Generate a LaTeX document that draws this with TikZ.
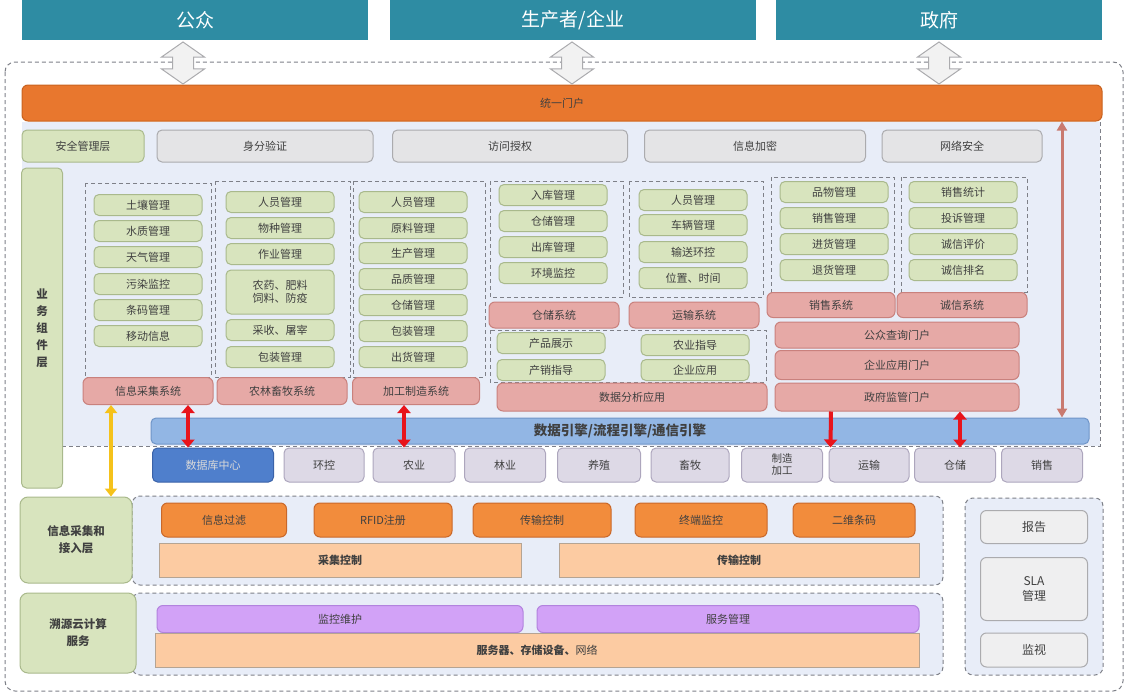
\documentclass[tikz,border=0pt]{standalone}
\usepackage{fontspec}
\setmainfont{Noto Sans CJK SC}
\usetikzlibrary{arrows.meta,shapes.arrows}
\definecolor{teal}{HTML}{2E8CA3}
\definecolor{portal}{HTML}{E8772E}
\definecolor{portald}{HTML}{C8621F}
\definecolor{region}{HTML}{E8EDF8}
\definecolor{grn}{HTML}{D8E4BE}
\definecolor{grnd}{HTML}{A9B98C}
\definecolor{gry}{HTML}{E4E4E6}
\definecolor{gryd}{HTML}{ABABAE}
\definecolor{pnk}{HTML}{E6A9A6}
\definecolor{pnkd}{HTML}{C9817D}
\definecolor{engine}{HTML}{92B6E4}
\definecolor{engined}{HTML}{6F95C8}
\definecolor{dbc}{HTML}{4F7FCC}
\definecolor{dbcd}{HTML}{3A62A8}
\definecolor{lav}{HTML}{DDD9E6}
\definecolor{lavd}{HTML}{ADA6BD}
\definecolor{org}{HTML}{F28C3C}
\definecolor{orgd}{HTML}{C9682A}
\definecolor{pch}{HTML}{FCCBA2}
\definecolor{pchd}{HTML}{B5A493}
\definecolor{prp}{HTML}{D2A2F7}
\definecolor{prpd}{HTML}{B283DE}
\definecolor{txt}{HTML}{404040}
\definecolor{frm}{HTML}{7E8088}
\definecolor{redarr}{HTML}{E8141B}
\definecolor{ylw}{HTML}{F5C21B}
\definecolor{brn}{HTML}{C97A70}
\begin{document}
\begin{tikzpicture}[x=1pt,y=-1pt,
  every node/.style={font=\fontsize{11}{13}\selectfont, text=txt, inner sep=0pt, align=center},
  topbox/.style={fill=teal, text=white, font=\fontsize{19}{22}\selectfont, minimum height=40pt},
  grnbox/.style={draw=grnd, fill=grn, line width=1pt, rounded corners=5pt},
  item/.style={grnbox, minimum width=108pt, minimum height=21pt},
  secbox/.style={draw=gryd, fill=gry, line width=1pt, rounded corners=5pt, minimum height=32pt},
  sysbox/.style={draw=pnkd, fill=pnk, line width=1pt, rounded corners=6pt, minimum height=27pt},
  cell/.style={draw=lavd, fill=lav, line width=1pt, rounded corners=5pt, minimum height=34pt},
  orgbox/.style={draw=orgd, fill=org, line width=1pt, rounded corners=6pt, minimum height=34pt},
  pchbox/.style={draw=pchd, fill=pch, line width=1pt, minimum height=34pt},
  prpbox/.style={draw=prpd, fill=prp, line width=1pt, rounded corners=6pt, minimum height=27pt},
  slabox/.style={draw=gryd, fill=gry!60, line width=1pt, rounded corners=6pt, minimum width=107pt, font=\fontsize{12}{15}\selectfont},
  frame/.style={draw=frm, line width=1pt, dash pattern=on 4pt off 3pt},
  hollow/.style={double arrow, rotate=90, draw=gryd, fill=gry!50, line width=1pt, inner xsep=0pt, inner ysep=10pt,
    minimum height=42pt, double arrow head extend=11pt, double arrow tip angle=110},
  redtip/.style={draw=redarr, line width=4pt, {Triangle[width=13pt,length=8pt]}-{Triangle[width=13pt,length=8pt]}}]
\useasboundingbox (0,0) rectangle (1128,696);
\draw[frame, rounded corners=10pt] (5,62) rectangle (1123,691);
\fill[region] (22,122) rectangle (1100,446);
\draw[frame] (62,446) -- (1100,446) -- (1100,122);
\node[topbox, minimum width=346pt] (pub) at (195,20) {公众};
\node[topbox, minimum width=366pt] (prod) at (573,20) {生产者/企业};
\node[topbox, minimum width=326pt] (gov) at (939,20) {政府};
\node[draw=portald, fill=portal, line width=1pt, rounded corners=6pt, minimum width=1080pt, minimum height=36pt] (portal) at (562,103) {统一门户};
\node[hollow] (arpub) at (183,63) {};
\node[hollow] (arprod) at (572,63) {};
\node[hollow] (argov) at (939,63) {};
\node[grnbox, minimum width=122pt, minimum height=32pt] (sec) at (83,146) {安全管理层};
\node[secbox, minimum width=216pt] (auth) at (265,146) {身分验证};
\node[secbox, minimum width=235pt] (acc) at (510,146) {访问授权};
\node[secbox, minimum width=221pt] (enc) at (755,146) {信息加密};
\node[secbox, minimum width=160pt] (net) at (962,146) {网络安全};
\node[grnbox, minimum width=41pt, minimum height=320pt, font=\fontsize{11.5}{17}\selectfont\bfseries] (biz) at (42,328) {业\\务\\组\\件\\层};
\draw[frame] (85,183) rectangle (211,377);
\draw[frame] (215,181) rectangle (350,377);
\draw[frame] (353,181) rectangle (485,377);
\draw[frame] (490,181) rectangle (623,297);
\draw[frame] (629,181) rectangle (763,297);
\draw[frame] (490,330) rectangle (766,382);
\draw[frame] (771,177) rectangle (894,292);
\draw[frame] (901,177) rectangle (1027,292);
\node[item] (soil) at (148,205) {土壤管理};
\node[item] (water) at (148,231) {水质管理};
\node[item] (weather) at (148,257) {天气管理};
\node[item] (pollute) at (148,284) {污染监控};
\node[item] (barcode) at (148,310) {条码管理};
\node[item] (mobile) at (148,336) {移动信息};
\node[item] (staffa) at (280,202) {人员管理};
\node[item] (species) at (280,228) {物种管理};
\node[item] (work) at (280,254) {作业管理};
\node[item, minimum height=44pt] (pest) at (280,292) {农药、肥料\\饲料、防疫};
\node[item] (harvest) at (280,330) {采收、屠宰};
\node[item] (packa) at (280,357) {包装管理};
\node[item] (staffb) at (413,202) {人员管理};
\node[item] (raw) at (413,228) {原料管理};
\node[item] (produce) at (413,253) {生产管理};
\node[item] (quality) at (413,279) {品质管理};
\node[item] (storea) at (413,305) {仓储管理};
\node[item] (packb) at (413,331) {包装管理};
\node[item] (ship) at (413,357) {出货管理};
\node[item] (inbound) at (553,195) {入库管理};
\node[item] (storeb) at (553,221) {仓储管理};
\node[item] (outbound) at (553,247) {出库管理};
\node[item] (envmon) at (553,273) {环境监控};
\node[item] (staffc) at (693,200) {人员管理};
\node[item] (vehicle) at (693,225) {车辆管理};
\node[item] (convey) at (693,252) {输送环控};
\node[item] (position) at (693,278) {位置、时间};
\node[item] (show) at (551,343) {产品展示};
\node[item] (guide) at (551,370) {产销指导};
\node[item] (agguide) at (695,345) {农业指导};
\node[item] (entapp) at (695,370) {企业应用};
\node[item] (goods) at (834,192) {品物管理};
\node[item] (sales) at (834,218) {销售管理};
\node[item] (purchase) at (834,244) {进货管理};
\node[item] (refund) at (834,270) {退货管理};
\node[item] (stat) at (963,192) {销售统计};
\node[item] (complain) at (963,218) {投诉管理};
\node[item] (rate) at (963,244) {诚信评价};
\node[item] (rank) at (963,270) {诚信排名};
\node[sysbox, minimum width=130pt] (sysinfo) at (148,391) {信息采集系统};
\node[sysbox, minimum width=130pt] (sysfarm) at (282,391) {农林畜牧系统};
\node[sysbox, minimum width=127pt] (sysproc) at (416,391) {加工制造系统};
\node[sysbox, minimum width=130pt, minimum height=26pt] (sysstore) at (554,315) {仓储系统};
\node[sysbox, minimum width=130pt, minimum height=26pt] (systrans) at (694,315) {运输系统};
\node[sysbox, minimum width=270pt, minimum height=28pt] (sysdata) at (632,397) {数据分析应用};
\node[sysbox, minimum width=128pt, minimum height=25pt] (syssale) at (831,305) {销售系统};
\node[sysbox, minimum width=130pt, minimum height=25pt] (syscredit) at (962,305) {诚信系统};
\node[sysbox, minimum width=244pt, minimum height=26pt] (pubp) at (897,335) {公众查询门户};
\node[sysbox, minimum width=244pt, minimum height=29pt] (entp) at (897,365) {企业应用门户};
\node[sysbox, minimum width=244pt, minimum height=28pt] (govp) at (897,397) {政府监管门户};
\node[draw=engined, fill=engine, line width=1pt, rounded corners=5pt, minimum width=938pt, minimum height=26pt, font=\fontsize{13.5}{15}\selectfont\bfseries, text=black!75] (engine) at (620,431) {数据引擎/流程引擎/通信引擎};
\node[cell, draw=dbcd, fill=dbc, minimum width=121pt, text=white!85!black] (db) at (213,465) {数据库中心};
\node[cell, minimum width=80pt] (envc) at (324,465) {环控};
\node[cell, minimum width=82pt] (agri) at (414,465) {农业};
\node[cell, minimum width=81pt] (forest) at (505,465) {林业};
\node[cell, minimum width=83pt] (breed) at (599,465) {养殖};
\node[cell, minimum width=78pt] (stock) at (690,465) {畜牧};
\node[cell, minimum width=81pt, font=\fontsize{10.5}{12}\selectfont] (mfg) at (782,465) {制造\\加工};
\node[cell, minimum width=80pt] (trans) at (869,465) {运输};
\node[cell, minimum width=81pt] (store) at (955,465) {仓储};
\node[cell, minimum width=81pt] (sell) at (1042,465) {销售};
\draw[redtip] ([xshift=40pt]sysinfo.south) -- ([xshift=-25pt]db.north);
\draw[redtip] ([xshift=-12pt]sysproc.south) -- ([xshift=-10pt]agri.north);
\draw[draw=redarr, line width=4pt, -{Triangle[width=13pt,length=8pt]}] ([xshift=-66pt]govp.south) -- ([xshift=2pt]trans.north west);
\draw[redtip] ([xshift=63pt]govp.south) -- ([xshift=5pt]store.north);
\draw[draw=brn, line width=3pt, {Triangle[width=10pt,length=9pt]}-{Triangle[width=10pt,length=9pt]}] ([xshift=500pt]portal.south) -- ([xshift=442pt]engine.north);
\fill[region, rounded corners=8pt] (132,496) rectangle (943,585);
\draw[frame, rounded corners=8pt] (132,496) rectangle (943,585);
\fill[region, rounded corners=8pt] (132,593) rectangle (943,675);
\draw[frame, rounded corners=8pt] (132,593) rectangle (943,675);
\fill[region, rounded corners=8pt] (965,498) rectangle (1103,675);
\draw[frame, rounded corners=8pt] (965,498) rectangle (1103,675);
\node[grnbox, minimum width=112pt, minimum height=86pt, rounded corners=8pt, font=\fontsize{11.5}{17}\selectfont\bfseries] (infolbl) at (76,540) {信息采集和\\接入层};
\node[grnbox, minimum width=116pt, minimum height=80pt, rounded corners=8pt, font=\fontsize{11.5}{17}\selectfont\bfseries] (cloudlbl) at (78,633) {溯源云计算\\服务};
\draw[draw=ylw, line width=3.5pt, {Triangle[width=12pt,length=8pt]}-{Triangle[width=12pt,length=8pt]}] ([xshift=-37pt]sysinfo.south) -- ([xshift=35pt]infolbl.north);
\node[orgbox, minimum width=125pt] (filter) at (224,520) {信息过滤};
\node[orgbox, minimum width=138pt] (rfid) at (383,520) {RFID注册};
\node[orgbox, minimum width=138pt] (transctl) at (542,520) {传输控制};
\node[orgbox, minimum width=132pt] (terminal) at (701,520) {终端监控};
\node[orgbox, minimum width=122pt] (qrcode) at (854,520) {二维条码};
\node[pchbox, minimum width=362pt, font=\fontsize{11}{13}\selectfont\bfseries] (collect) at (340,560) {采集控制};
\node[pchbox, minimum width=360pt, font=\fontsize{11}{13}\selectfont\bfseries] (transmit) at (739,560) {传输控制};
\node[prpbox, minimum width=366pt] (monitor) at (340,619) {监控维护};
\node[prpbox, minimum width=382pt] (service) at (728,619) {服务管理};
\node[pchbox, minimum width=764pt] (server) at (537,650) {{\bfseries 服务器、存储设备、}网络};
\node[slabox, minimum height=33pt] (report) at (1034,527) {报告};
\node[slabox, minimum height=63pt] (sla) at (1034,589) {SLA\\管理};
\node[slabox, minimum height=34pt] (watch) at (1034,650) {监视};
\end{tikzpicture}
\end{document}
